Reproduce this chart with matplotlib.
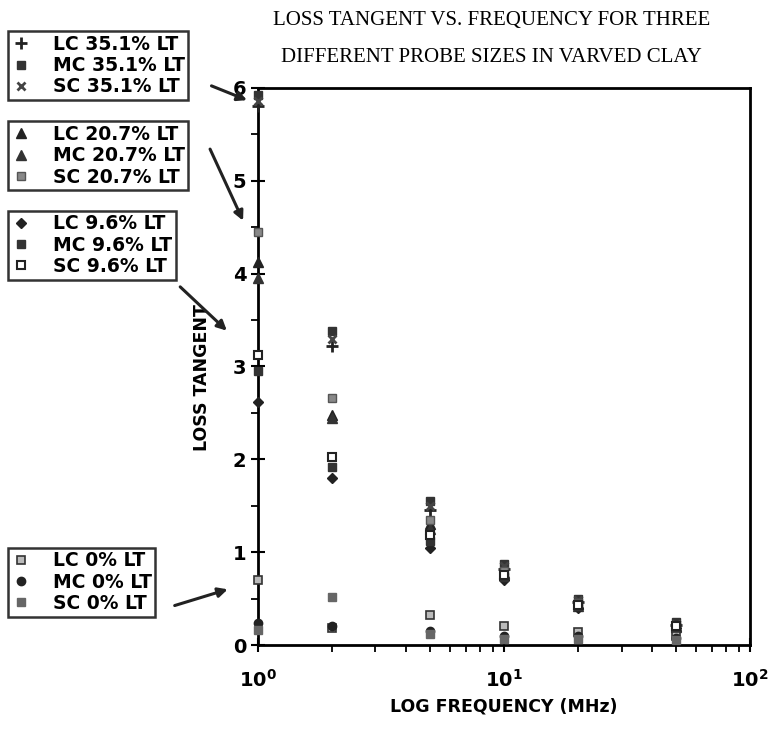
import matplotlib
matplotlib.use("Agg")
import matplotlib.pyplot as plt
from matplotlib.ticker import LogLocator, MultipleLocator

# frequencies in MHz
freq = [1, 2, 5, 10, 20, 50]

# loss tangent, one list per probe size / moisture level
lc_35 = [5.80, 3.22, 1.45, 0.82, 0.46, 0.22]
mc_35 = [5.92, 3.38, 1.55, 0.87, 0.50, 0.25]
sc_35 = [5.86, 3.30, 1.50, 0.85, 0.48, 0.23]
lc_20 = [4.12, 2.48, 1.30, 0.78, 0.44, 0.20]
mc_20 = [3.95, 2.44, 1.25, 0.76, 0.42, 0.19]
sc_20 = [4.45, 2.66, 1.35, 0.80, 0.45, 0.21]
lc_9 = [2.62, 1.80, 1.05, 0.70, 0.40, 0.18]
mc_9 = [2.95, 1.92, 1.12, 0.73, 0.42, 0.19]
sc_9 = [3.12, 2.02, 1.18, 0.75, 0.43, 0.20]
lc_0 = [0.70, 0.18, 0.32, 0.20, 0.14, 0.10]
mc_0 = [0.24, 0.20, 0.15, 0.10, 0.10, 0.08]
sc_0 = [0.16, 0.52, 0.12, 0.07, 0.07, 0.05]

groups = [
    [("LC 35.1% LT", lc_35), ("MC 35.1% LT", mc_35), ("SC 35.1% LT", sc_35)],
    [("LC 20.7% LT", lc_20), ("MC 20.7% LT", mc_20), ("SC 20.7% LT", sc_20)],
    [("LC 9.6% LT", lc_9), ("MC 9.6% LT", mc_9), ("SC 9.6% LT", sc_9)],
    [("LC 0% LT", lc_0), ("MC 0% LT", mc_0), ("SC 0% LT", sc_0)],
]

styles = [
    [dict(marker="+", color="#222222", ms=8, mew=2),
     dict(marker="s", color="#333333", ms=6),
     dict(marker="x", color="#444444", ms=6, mew=2)],
    [dict(marker="^", color="#222222", ms=7),
     dict(marker="^", color="#333333", ms=7),
     dict(marker="s", color="#888888", ms=6, mec="#555555")],
    [dict(marker="D", color="#222222", ms=5),
     dict(marker="s", color="#333333", ms=6),
     dict(marker="s", mfc="white", mec="#222222", ms=6, mew=1.5, color="#222222")],
    [dict(marker="s", mfc="#bbbbbb", mec="#333333", ms=6, mew=1.2, color="#333333"),
     dict(marker="o", color="#222222", ms=6),
     dict(marker="s", color="#666666", ms=6)],
]

fig = plt.figure(figsize=(7.68, 7.44), dpi=100)
ax = fig.add_axes([0.336, 0.133, 0.641, 0.749])

handles = []
for grp, sty in zip(groups, styles):
    hs = []
    for (label, vals), s in zip(grp, sty):
        h, = ax.plot(freq, vals, linestyle="none", label=label, clip_on=False,
                     zorder=3, **s)
        hs.append(h)
    handles.append(hs)

ax.set_xscale("log")
ax.set_xlim(1, 100)
ax.set_ylim(0, 6)
ax.yaxis.set_major_locator(MultipleLocator(1))
ax.yaxis.set_minor_locator(MultipleLocator(0.5))
ax.xaxis.set_minor_locator(LogLocator(base=10, subs=range(2, 10)))
ax.tick_params(axis="both", which="major", direction="inout", length=10, width=1.5,
               labelsize=14)
ax.tick_params(axis="x", which="major", pad=12)
ax.tick_params(axis="both", which="minor", direction="out", length=5, width=1.3)
for sp in ax.spines.values():
    sp.set_linewidth(2)
for lbl in ax.get_xticklabels() + ax.get_yticklabels():
    lbl.set_fontweight("bold")

ax.set_ylabel("LOSS TANGENT", fontsize=12.5, fontweight="bold")
ax.set_xlabel("LOG FREQUENCY (MHz)", fontsize=12.5, fontweight="bold")
ax.yaxis.set_label_coords(-0.095, 0.48)
ax.xaxis.set_label_coords(0.5, -0.095)

fig.text(0.64, 0.973, "LOSS TANGENT VS. FREQUENCY FOR THREE",
         family="Liberation Serif", fontsize=15, ha="center", va="center")
fig.text(0.64, 0.923, "DIFFERENT PROBE SIZES IN VARVED CLAY",
         family="Liberation Serif", fontsize=15, ha="center", va="center")

legend_tops = [0.958, 0.837, 0.717, 0.264]
for hs, top in zip(handles, legend_tops):
    leg = fig.legend(handles=hs, loc="upper left", bbox_to_anchor=(0.010, top),
                     frameon=True, fancybox=False, edgecolor="black",
                     prop={"family": "DejaVu Sans", "size": 13.5, "weight": "bold"},
                     handlelength=1.0, handletextpad=1.2, labelspacing=0.12,
                     borderpad=0.2, borderaxespad=0)
    leg.get_frame().set_linewidth(1.8)

arrows = [((0.272, 0.886), (0.325, 0.864)),
          ((0.272, 0.803), (0.318, 0.700)),
          ((0.232, 0.617), (0.298, 0.553)),
          ((0.224, 0.185), (0.300, 0.209))]
for start, end in arrows:
    fig.add_artist(matplotlib.patches.FancyArrowPatch(
        start, end, transform=fig.transFigure, arrowstyle="-|>",
        mutation_scale=14, lw=2.2, color="#222222"))

fig.savefig("out.png", dpi=100)
